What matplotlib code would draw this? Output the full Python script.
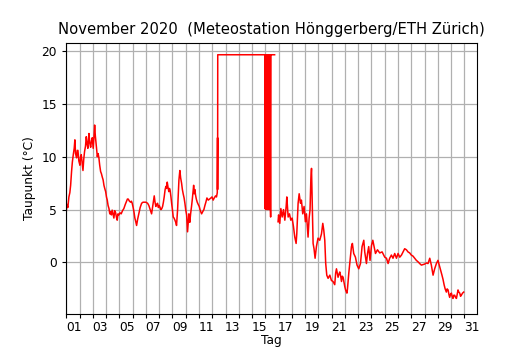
import numpy as np
import matplotlib
matplotlib.use('Agg')
import matplotlib.pyplot as plt

# Zeit in Tagen ab 1. November 00:00
tag = [
    0.00, 0.05, 0.12, 0.20, 0.27, 0.33, 0.40, 0.46, 0.53, 0.60, 0.65, 0.70, 0.78, 0.83, 0.88, 0.95,
    1.03, 1.08, 1.13, 1.20, 1.26, 1.32, 1.38, 1.45, 1.51, 1.57, 1.63, 1.71, 1.77, 1.84, 1.90, 1.96,
    2.03, 2.09, 2.14, 2.19, 2.24, 2.29, 2.34, 2.40, 2.46, 2.52, 2.59, 2.65, 2.71, 2.78, 2.84, 2.90, 2.97,
    3.03, 3.09, 3.15, 3.22, 3.28, 3.34, 3.40, 3.46, 3.52, 3.59, 3.65, 3.72, 3.78, 3.84, 3.90, 3.97,
    4.05, 4.14, 4.24, 4.34, 4.45, 4.55, 4.61, 4.67, 4.76, 4.85, 4.91, 4.97,
    5.04, 5.10, 5.17, 5.23, 5.30, 5.38, 5.47, 5.57, 5.68, 5.78, 5.87,
    6.00, 6.13, 6.22, 6.30, 6.43, 6.50, 6.55, 6.63, 6.69, 6.75, 6.82, 6.88, 6.94,
    7.00, 7.07, 7.13, 7.20, 7.26, 7.32, 7.38, 7.45, 7.51, 7.56, 7.61, 7.67, 7.73, 7.78, 7.83, 7.89, 7.94,
    8.00, 8.06, 8.12, 8.19, 8.25, 8.31, 8.35, 8.39, 8.44, 8.49, 8.56, 8.62, 8.69, 8.75, 8.81, 8.88, 8.94,
    9.00, 9.07, 9.10, 9.14, 9.19, 9.24, 9.28, 9.31, 9.37, 9.44, 9.50, 9.56, 9.60, 9.64, 9.69, 9.74, 9.80, 9.87, 9.94,
    10.02, 10.10, 10.20, 10.28, 10.37, 10.45, 10.52, 10.60, 10.70, 10.80, 10.90, 10.98,
    11.07, 11.15, 11.25, 11.32, 11.38, 11.400, 11.405, 11.410, 11.415,
    14.96, 14.97, 14.99, 15.00, 15.02, 15.03, 15.05, 15.06, 15.08, 15.09, 15.11, 15.12,
    15.14, 15.15, 15.17, 15.18, 15.20, 15.21, 15.23, 15.24, 15.26, 15.27, 15.29, 15.30,
    15.32, 15.33, 15.35, 15.36, 15.38, 15.39, 15.40, 15.405, 15.70, 15.80,
    15.96, 16.00, 16.09, 16.17, 16.27, 16.37, 16.47, 16.57, 16.62, 16.72, 16.82, 16.92,
    17.02, 17.12, 17.22, 17.32, 17.37, 17.47, 17.55, 17.65, 17.72, 17.82, 17.92,
    18.02, 18.10, 18.17, 18.22, 18.30, 18.37, 18.43, 18.48, 18.55, 18.60, 18.67, 18.75, 18.85, 18.97,
    19.10, 19.23, 19.33, 19.40, 19.48, 19.55, 19.63, 19.73, 19.86, 19.98,
    20.10, 20.23, 20.30, 20.36, 20.42, 20.48, 20.55, 20.61, 20.68, 20.74, 20.80, 20.86, 20.93, 20.99,
    21.05, 21.11, 21.15, 21.19, 21.29, 21.36, 21.49, 21.56, 21.66, 21.79, 21.91,
    22.04, 22.17, 22.29, 22.42, 22.49, 22.62, 22.70, 22.79, 22.89,
    23.00, 23.10, 23.20, 23.30, 23.45, 23.62, 23.80,
    24.00, 24.13, 24.25, 24.37, 24.50, 24.62, 24.75, 24.88,
    25.00, 25.13, 25.26, 25.38, 25.50, 25.63, 25.75, 25.88,
    26.00, 26.13, 26.26, 26.38, 26.51, 26.63, 26.76, 26.88,
    27.01, 27.13, 27.26, 27.39, 27.51, 27.64, 27.76, 27.89,
    28.01, 28.14, 28.22, 28.31, 28.39, 28.47, 28.55, 28.64, 28.70, 28.77, 28.83, 28.89, 28.96,
    29.02, 29.08, 29.14, 29.20, 29.27, 29.33, 29.40, 29.46, 29.52, 29.58, 29.65, 29.71, 29.77, 29.86, 29.95,
]

taupunkt = [
    4.8, 5.5, 5.2, 6.2, 6.6, 7.3, 8.6, 9.5, 10.2, 10.8, 11.6, 10.3, 9.9, 10.6, 10.6, 9.6,
    9.2, 10.0, 10.2, 9.4, 8.7, 9.8, 10.5, 11.0, 11.9, 11.2, 10.8, 12.2, 11.3, 10.9, 11.5, 11.8,
    10.8, 11.9, 13.0, 12.0, 11.4, 10.7, 10.0, 10.3, 9.9, 9.2, 8.6, 8.4, 8.1, 7.8, 7.3, 7.0, 6.7,
    6.2, 5.9, 5.4, 5.1, 4.6, 4.8, 4.5, 4.95, 4.6, 4.2, 4.9, 4.7, 4.3, 4.0, 4.6, 4.5,
    4.7, 4.6, 4.9, 5.1, 5.5, 5.8, 6.0, 6.0, 5.8, 5.7, 5.8, 5.6,
    5.2, 4.8, 4.2, 3.9, 3.5, 4.1, 4.6, 5.2, 5.6, 5.7, 5.7,
    5.7, 5.6, 5.4, 5.1, 4.6, 5.2, 5.7, 6.3, 5.7, 5.3, 5.5, 5.6, 5.2,
    5.4, 5.2, 5.0, 5.1, 5.3, 5.7, 6.2, 6.9, 7.2, 7.0, 7.6, 7.1, 6.7, 7.0, 6.8, 6.2, 5.6,
    5.0, 4.3, 4.2, 4.0, 3.8, 3.5, 4.2, 5.0, 6.5, 7.8, 8.7, 8.0, 7.5, 6.9, 6.5, 6.1, 5.6,
    5.0, 4.5, 3.8, 2.9, 3.8, 4.6, 4.2, 3.8, 4.6, 5.3, 6.0, 6.8, 7.3, 6.5, 6.9, 6.4, 6.0, 5.7, 5.5,
    5.3, 4.9, 4.6, 4.8, 5.0, 5.4, 5.7, 6.1, 5.9, 6.0, 6.1, 6.2,
    5.9, 6.1, 6.3, 6.2, 6.6, 11.8, 6.9, 11.8, 19.65,
    19.65, 5.1, 19.65, 5.2, 19.65, 5.0, 19.65, 5.3, 19.65, 5.1, 19.65, 5.2,
    19.65, 5.0, 19.65, 5.1, 19.65, 5.3, 19.65, 5.1, 19.65, 5.0, 19.65, 5.2,
    19.65, 5.1, 19.65, 5.0, 19.65, 5.1, 4.3, 19.65, 19.65, np.nan,
    3.85, 4.5, 3.7, 5.1, 4.3, 5.0, 4.0, 5.3, 6.2, 4.3, 4.6, 4.0,
    4.2, 3.4, 2.4, 1.8, 2.7, 5.6, 6.5, 5.6, 5.9, 4.6, 5.3,
    3.85, 4.6, 3.4, 2.4, 4.2, 5.0, 7.8, 8.9, 5.0, 1.8, 1.3, 0.4, 1.5, 2.3,
    2.1, 2.7, 3.7, 3.1, 2.1, -0.1, -1.2, -1.5, -1.2, -1.7,
    -1.8, -2.1, -1.0, -0.6, -1.0, -1.4, -1.1, -0.9, -1.3, -1.8, -1.3, -1.4, -1.9, -2.3,
    -2.6, -2.8, -2.9, -2.5, -1.0, -0.1, 1.5, 1.8, 0.85, 0.5, -0.25,
    -0.6, -0.1, 1.5, 2.1, 1.0, -0.1, 0.85, 1.5, 0.2,
    1.6, 2.1, 1.5, 0.85, 1.2, 0.9, 1.0,
    0.5, 0.4, -0.1, 0.4, 0.7, 0.4, 0.85, 0.4,
    0.85, 0.5, 0.7, 1.0, 1.3, 1.2, 1.0, 0.9,
    0.7, 0.6, 0.4, 0.2, 0.06, -0.1, -0.25, -0.2,
    -0.15, -0.05, -0.1, 0.4, -0.25, -1.2, -0.6, -0.1,
    0.2, -0.4, -0.8, -1.2, -1.6, -2.1, -2.5, -2.8, -2.5, -2.6, -3.0, -3.3, -3.0,
    -2.9, -3.2, -3.4, -3.1, -3.1, -3.3, -3.4, -3.0, -2.6, -2.8, -2.9, -3.2, -3.1, -2.9, -2.8,
]

tag_ticks = list(range(0, 31))
label_tage = [1, 3, 5, 7, 9, 11, 13, 15, 17, 19, 21, 23, 25, 27, 29, 31]
y_ticks = [0, 5, 10, 15, 20]

# ---------------------------------------------------------------------

def main():

    plt.rcParams['font.size'] = 8.8

    fig, ax = plt.subplots(figsize=(5.3, 3.5), dpi=100)
    fig.subplots_adjust(left=0.125, right=0.9, top=0.878, bottom=0.103)

    ax.plot(tag, taupunkt, color='r', linewidth=1.1)

    ax.set_xlim(0, 30.95)
    ax.set_ylim(-4.87, 20.79)

    ax.set_xticks(tag_ticks)
    ax.set_xticklabels([])
    ax.set_xticks([t - 0.45 for t in label_tage], minor=True)
    ax.set_xticklabels(['%02d' % t for t in label_tage], minor=True)
    ax.tick_params(axis='x', which='minor', length=0, pad=5)
    ax.tick_params(axis='both', which='major', length=3.1, labelsize=8.8)

    ax.set_yticks(y_ticks)

    ax.grid(True, which='major', color='#b0b0b0', linewidth=0.9)
    ax.set_axisbelow(True)

    ax.set_title('November 2020  (Meteostation Hönggerberg/ETH Zürich)', fontsize=10.6)
    ax.set_xlabel('Tag', labelpad=0)
    ax.set_ylabel('Taupunkt (°C)')

    fig.savefig('out.png', dpi=100)


main()
